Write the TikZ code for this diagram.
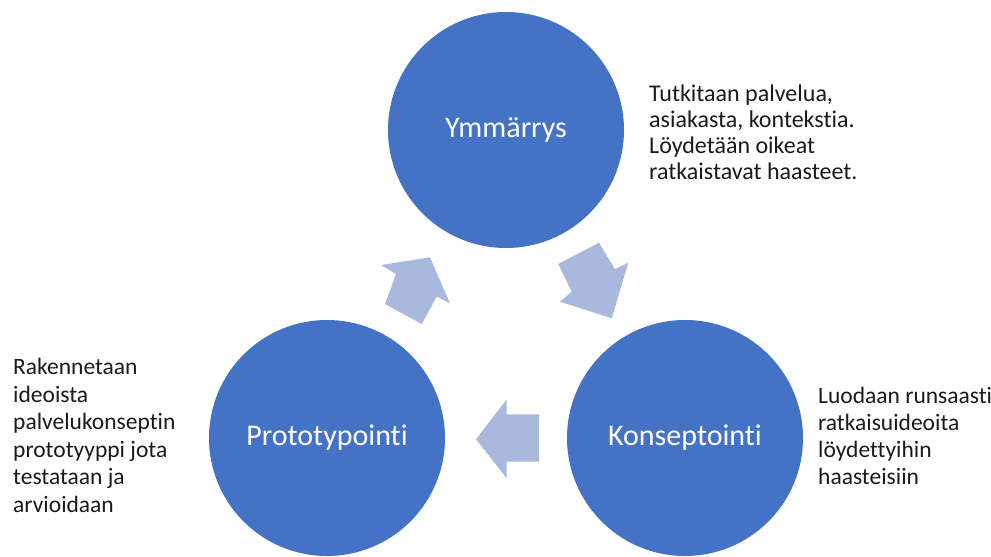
\documentclass[tikz,border=0pt]{standalone}
\usepackage{fontspec}
\setmainfont{Carlito}[Ligatures=NoCommon]
\definecolor{circblue}{HTML}{4472C4}
\definecolor{arrblue}{HTML}{A9B8DD}
\definecolor{txt}{HTML}{1A1A1A}
\begin{document}
\begin{tikzpicture}[x=1pt,y=-1pt,
  phase/.style={circle,fill=circblue,minimum size=236pt,inner sep=0pt,text=white,font=\fontsize{30}{36}\selectfont},
  note/.style={anchor=base west,align=left,inner sep=0pt,text=txt},
  cyclearrow/.style={fill=arrblue,draw=none}]
\useasboundingbox (0,0) rectangle (991,557);
\node[phase] (ymm) at (506,130) {Ymmärrys};
\node[phase] (kon) at (685,438) {Konseptointi};
\node[phase] (pro) at (327,438) {Prototypointi};
% arrows
\fill[cyclearrow] (381,265) -- (430,257.3) -- (450,303.3) -- (436.7,296.7) -- (421.7,324) -- (385,304) -- (396,274) -- cycle;
\fill[cyclearrow] (599,242.7) -- (615,269.3) -- (628.3,262.7) -- (611.7,318.3) -- (560,301.7) -- (571.7,291.7) -- (558.3,264) -- cycle;
\fill[cyclearrow] (476,439.3) -- (506.7,399.3) -- (506.7,414.3) -- (539,414.3) -- (539,461.7) -- (506.7,461.7) -- (506.7,478.3) -- cycle;
% notes
\node[note,font=\fontsize{24}{26}\selectfont] (n1) at (649,179) {Tutkitaan palvelua,\\asiakasta, kontekstia.\\Löydetään oikeat\\ratkaistavat haasteet.};
\node[note,font=\fontsize{23.5}{27}\selectfont] (n2) at (818,484) {Luodaan runsaasti\\ratkaisuideoita\\löydettyihin\\haasteisiin};
\node[note,font=\fontsize{23.5}{27.5}\selectfont] (n3) at (13,512) {Rakennetaan\\ideoista\\palvelukonseptin\\prototyyppi jota\\testataan ja\\arvioidaan};
\end{tikzpicture}
\end{document}
